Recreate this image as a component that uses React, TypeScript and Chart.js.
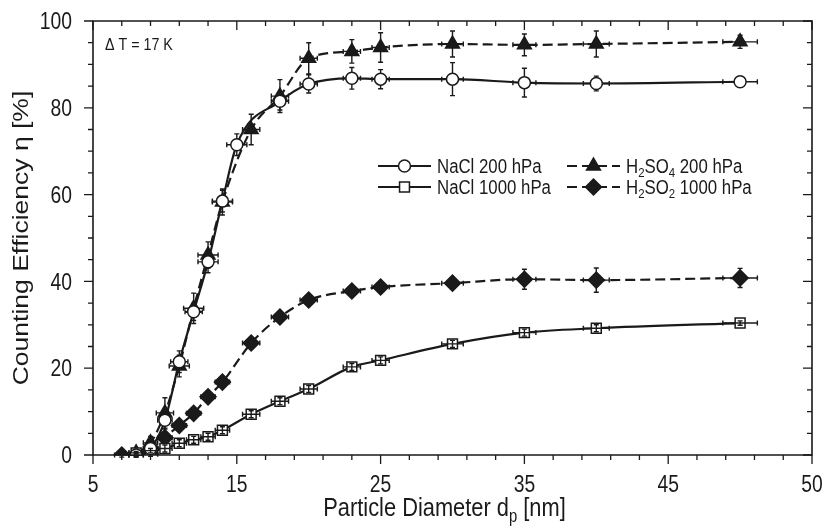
import React, { useEffect, useRef } from 'react';
import { Chart, registerables } from 'chart.js';
Chart.register(...registerables);

const FONT = "'Liberation Sans', Arial, Helvetica, sans-serif";
const INK = '#1a1a1a';
const SX = 0.84; // horizontal squeeze of text in the reference

const xTickValues = [5, 15, 25, 35, 45, 55];
const xTickLabels = ['5', '15', '25', '35', '45', '50'];
const yTickValues = [0, 20, 40, 60, 80, 100];
const yTickLabels = ['0', '20', '40', '60', '80', '100'];

const xTitle = 'Particle Diameter d_p [nm]';
const yTitle = 'Counting Efficiency \u03b7 [%]';
const annotation = '\u0394 T = 17 K';

const seriesLabels = ['NaCl 200 hPa', 'NaCl 1000 hPa', 'H_2SO_4 200 hPa', 'H_2SO_2 1000 hPa'];

// NaCl 200 hPa
const nacl200X = [8, 9, 10, 11, 12, 13, 14, 15, 18, 20, 23, 25, 30, 35, 40, 50];
const nacl200Y = [0, 1.5, 8, 21.5, 33, 44.5, 58.5, 71.5, 81.5, 85.5, 86.8, 86.6, 86.6, 85.8, 85.6, 86];
const nacl200YErr = [0.5, 1, 2, 2.5, 2, 2.5, 2.5, 2.5, 2, 2.1, 2.5, 2.2, 3.8, 3.3, 1.7, 0.5];
const nacl200XErr = [0.5, 0.5, 0.5, 0.6, 0.6, 0.7, 0.7, 0.7, 0.6, 0.6, 0.6, 0.6, 0.75, 0.8, 0.9, 1.2];

// NaCl 1000 hPa
const nacl1000X = [8, 9, 10, 11, 12, 13, 14, 16, 18, 20, 23, 25, 30, 35, 40, 50];
const nacl1000Y = [0.5, 1, 1.5, 2.7, 3.5, 4.2, 5.7, 9.4, 12.4, 15.2, 20.3, 21.8, 25.6, 28.2, 29.2, 30.4];
const nacl1000YErr = [0.3, 0.5, 0.8, 0.8, 0.8, 0.8, 0.8, 0.8, 0.8, 0.8, 0.8, 0.8, 0.8, 0.8, 0.8, 0.5];
const nacl1000XErr = [0.5, 0.5, 0.5, 0.5, 0.5, 0.5, 0.5, 0.6, 0.6, 0.6, 0.6, 0.6, 0.75, 0.8, 0.9, 1.2];

// H2SO4 200 hPa
const h2so4X = [8, 9, 10, 11, 12, 13, 14, 16, 18, 20, 23, 25, 30, 35, 40, 50];
const h2so4Y = [0.5, 2.8, 9.7, 20.5, 33.8, 46.1, 58.3, 75, 82.7, 91.4, 93, 93.9, 94.7, 94.5, 94.7, 95.2];
const h2so4YErr = [0.8, 1.5, 3.5, 2.5, 3.5, 3, 3, 3.5, 3.8, 3.6, 2.7, 3.4, 3, 2.5, 3, 1.5];
const h2so4XErr = [0.5, 0.5, 0.6, 0.7, 0.7, 0.7, 0.7, 0.6, 0.6, 0.6, 0.6, 0.6, 0.75, 0.8, 0.9, 1.2];

// H2SO2 1000 hPa
const h2so2X = [7, 8, 9, 10, 11, 12, 13, 14, 16, 18, 20, 23, 25, 30, 35, 40, 50];
const h2so2Y = [0, 0, 0.2, 4, 6.8, 9.6, 13.4, 16.8, 25.8, 31.8, 35.7, 37.8, 38.7, 39.6, 40.5, 40.3, 40.8];
const h2so2YErr = [0.5, 0.5, 0.5, 0.8, 0.8, 0.8, 0.8, 0.8, 0.8, 0.8, 0.8, 0.8, 0.8, 0.8, 2.3, 2.8, 2.2];
const h2so2XErr = [0.5, 0.5, 0.5, 0.5, 0.5, 0.5, 0.5, 0.5, 0.6, 0.6, 0.6, 0.6, 0.6, 0.75, 0.8, 0.9, 1.2];

const seriesXs = [nacl200X, nacl1000X, h2so4X, h2so2X];
const seriesYs = [nacl200Y, nacl1000Y, h2so4Y, h2so2Y];
const seriesXErr = [nacl200XErr, nacl1000XErr, h2so4XErr, h2so2XErr];
const seriesYErr = [nacl200YErr, nacl1000YErr, h2so4YErr, h2so2YErr];

const pointStyles = ['circle', 'rect', 'triangle', 'rectRot'];
const pointRadii = [6, 7, 8, 8];
const pointFills = ['#ffffff', '#ffffff', INK, INK];
const dashes: number[][] = [[], [], [10, 5], [10, 5]];
const errorsOnTop = [false, true, false, false];

function parseRich(text: string) {
  const parts: { ch: string; sub: boolean }[] = [];
  for (let i = 0; i < text.length; i++) {
    if (text[i] === '_' && i + 1 < text.length) {
      parts.push({ ch: text[i + 1], sub: true });
      i++;
    } else {
      parts.push({ ch: text[i], sub: false });
    }
  }
  return parts;
}

function measureRich(ctx: CanvasRenderingContext2D, text: string, size: number) {
  let w = 0;
  for (const p of parseRich(text)) {
    ctx.font = `${p.sub ? size * 0.68 : size}px ${FONT}`;
    w += ctx.measureText(p.ch).width;
  }
  return w;
}

// draws text (with _x subscripts), alphabetic baseline at (x, y), squeezed horizontally like the reference
function drawText(
  ctx: CanvasRenderingContext2D,
  text: string,
  x: number,
  y: number,
  size: number,
  align: 'left' | 'center' | 'right',
  rotated = false
) {
  ctx.save();
  ctx.translate(x, y);
  ctx.scale(SX, 1);
  if (rotated) ctx.rotate(-Math.PI / 2);
  ctx.textAlign = 'left';
  ctx.textBaseline = 'alphabetic';
  const w = measureRich(ctx, text, size);
  let cx = align === 'center' ? -w / 2 : align === 'right' ? -w : 0;
  for (const p of parseRich(text)) {
    const fs = p.sub ? size * 0.68 : size;
    ctx.font = `${fs}px ${FONT}`;
    ctx.fillText(p.ch, cx, p.sub ? size * 0.22 : 0);
    cx += ctx.measureText(p.ch).width;
  }
  ctx.restore();
}

function drawErrors(chart: any, onTop: boolean) {
  const ctx = chart.ctx as CanvasRenderingContext2D;
  const xs = chart.scales.x;
  const ys = chart.scales.y;
  ctx.save();
  ctx.strokeStyle = INK;
  ctx.lineWidth = 1.4;
  ctx.setLineDash([]);
  seriesXs.forEach((xArr, s) => {
    if (errorsOnTop[s] !== onTop) return;
    xArr.forEach((xv, i) => {
      const yv = seriesYs[s][i];
      const px = xs.getPixelForValue(xv);
      const py = ys.getPixelForValue(yv);
      const x1 = xs.getPixelForValue(xv - seriesXErr[s][i]);
      const x2 = xs.getPixelForValue(xv + seriesXErr[s][i]);
      const y1 = ys.getPixelForValue(yv - seriesYErr[s][i]);
      const y2 = ys.getPixelForValue(yv + seriesYErr[s][i]);
      const cap = 2.5;
      ctx.beginPath();
      ctx.moveTo(x1, py); ctx.lineTo(x2, py);
      ctx.moveTo(x1, py - cap); ctx.lineTo(x1, py + cap);
      ctx.moveTo(x2, py - cap); ctx.lineTo(x2, py + cap);
      ctx.moveTo(px, y1); ctx.lineTo(px, y2);
      ctx.moveTo(px - cap, y1); ctx.lineTo(px + cap, y1);
      ctx.moveTo(px - cap, y2); ctx.lineTo(px + cap, y2);
      ctx.stroke();
    });
  });
  ctx.restore();
}

function drawMarker(ctx: CanvasRenderingContext2D, style: string, r: number, x: number, y: number) {
  ctx.beginPath();
  if (style === 'circle') {
    ctx.arc(x, y, r, 0, Math.PI * 2);
  } else if (style === 'rect') {
    const h = r * Math.SQRT1_2;
    ctx.rect(x - h, y - h, 2 * h, 2 * h);
  } else if (style === 'triangle') {
    const a = (2 * Math.PI) / 3;
    ctx.moveTo(x, y - r);
    ctx.lineTo(x + Math.sin(a) * r, y - Math.cos(a) * r);
    ctx.lineTo(x + Math.sin(2 * a) * r, y - Math.cos(2 * a) * r);
  } else {
    ctx.moveTo(x - r, y);
    ctx.lineTo(x, y - r);
    ctx.lineTo(x + r, y);
    ctx.lineTo(x, y + r);
  }
  ctx.closePath();
  ctx.fill();
  ctx.stroke();
}

const decorPlugin = {
  id: 'decor',
  beforeDatasetsDraw(chart: any) {
    drawErrors(chart, false);
  },
  afterDatasetsDraw(chart: any) {
    drawErrors(chart, true);
    const ctx = chart.ctx as CanvasRenderingContext2D;
    const { left, right, top, bottom } = chart.chartArea;
    const xs = chart.scales.x;
    const ys = chart.scales.y;
    ctx.save();
    ctx.strokeStyle = INK;
    ctx.lineWidth = 1.6;
    ctx.setLineDash([]);
    ctx.beginPath();
    ctx.rect(left, top, right - left, bottom - top);
    ctx.stroke();
    ctx.lineWidth = 1.3;
    ctx.beginPath();
    for (let v = 5; v <= 55; v += 2) {
      const major = (v - 5) % 10 === 0;
      const len = major ? 9 : 5;
      const px = xs.getPixelForValue(v);
      ctx.moveTo(px, bottom); ctx.lineTo(px, bottom + len);
      ctx.moveTo(px, top); ctx.lineTo(px, top + len);
    }
    for (let v = 0; v <= 100; v += 5) {
      const major = v % 20 === 0;
      const len = major ? 9 : 5;
      const py = ys.getPixelForValue(v);
      ctx.moveTo(left, py); ctx.lineTo(left - len, py);
      ctx.moveTo(right, py); ctx.lineTo(right - len, py);
    }
    ctx.stroke();

    ctx.fillStyle = INK;
    // tick labels, placed by the scales
    const tfs = 23;
    xs.ticks.forEach((t: any) => {
      const idx = xTickValues.indexOf(t.value);
      if (idx < 0) return;
      drawText(ctx, xTickLabels[idx], xs.getPixelForValue(t.value), bottom + 37, tfs, 'center');
    });
    ys.ticks.forEach((t: any) => {
      const idx = yTickValues.indexOf(t.value);
      if (idx < 0) return;
      drawText(ctx, yTickLabels[idx], left - 21, ys.getPixelForValue(t.value) + 8.2, tfs, 'right');
    });

    // axis titles
    drawText(ctx, xTitle, (left + right) / 2 - 8, 516, 26, 'center');
    drawText(ctx, yTitle, 28, (top + bottom) / 2, 26.5, 'center', true);

    // annotation
    drawText(ctx, annotation, left + 12, top + 29, 17, 'left');

    // legend
    const rows = [166, 187];
    const cols = [378, 567];
    const lineLen = 53;
    const fs = 20;
    seriesLabels.forEach((lab, s) => {
      const col = s < 2 ? 0 : 1;
      const row = s % 2;
      const x0 = cols[col];
      const y0 = rows[row];
      ctx.save();
      ctx.strokeStyle = INK;
      ctx.lineWidth = 2.2;
      ctx.setLineDash(dashes[s]);
      ctx.beginPath();
      ctx.moveTo(x0, y0);
      ctx.lineTo(x0 + lineLen, y0);
      ctx.stroke();
      ctx.restore();
      ctx.save();
      ctx.fillStyle = pointFills[s];
      ctx.strokeStyle = INK;
      ctx.lineWidth = 1.5;
      ctx.setLineDash([]);
      drawMarker(ctx, pointStyles[s], pointRadii[s], x0 + lineLen / 2, y0);
      ctx.restore();
      ctx.fillStyle = INK;
      drawText(ctx, lab, x0 + lineLen + 6, y0 + 7, fs, 'left');
    });
    ctx.restore();
  },
};

export default function App() {
  const ref = useRef<HTMLCanvasElement | null>(null);
  useEffect(() => {
    document.body.style.margin = '0';
    const canvas = ref.current;
    if (!canvas) return;
    const datasets = seriesXs.map((xArr, s) => ({
      label: seriesLabels[s].replace(/_/g, ''),
      data: xArr.map((x, i) => ({ x, y: seriesYs[s][i] })),
      borderColor: INK,
      backgroundColor: pointFills[s],
      borderWidth: 2.2,
      borderDash: dashes[s],
      pointStyle: pointStyles[s] as any,
      pointRadius: pointRadii[s],
      pointBackgroundColor: pointFills[s],
      pointBorderColor: INK,
      pointBorderWidth: 1.5,
      cubicInterpolationMode: 'monotone' as const,
      fill: false,
    }));
    const chart = new Chart(canvas, {
      type: 'line',
      data: { datasets },
      options: {
        animation: false,
        responsive: false,
        events: [],
        layout: { padding: { top: 21, right: 15, left: 0, bottom: 0 } },
        plugins: { legend: { display: false }, tooltip: { enabled: false } },
        scales: {
          x: {
            type: 'linear',
            min: 5,
            max: 55,
            afterBuildTicks: (s: any) => {
              s.ticks = xTickValues.map((v) => ({ value: v }));
            },
            afterFit: (s: any) => {
              s.height = 71;
            },
            ticks: { display: false },
            grid: { display: false },
            border: { display: false },
          },
          y: {
            type: 'linear',
            min: 0,
            max: 100,
            afterBuildTicks: (s: any) => {
              s.ticks = yTickValues.map((v) => ({ value: v }));
            },
            afterFit: (s: any) => {
              s.width = 93;
            },
            ticks: { display: false },
            grid: { display: false },
            border: { display: false },
          },
        },
      },
      plugins: [decorPlugin],
    });
    return () => chart.destroy();
  }, []);
  return (
    <div style={{ width: 827, height: 526 }}>
      <canvas ref={ref} width={827} height={526} />
    </div>
  );
}
